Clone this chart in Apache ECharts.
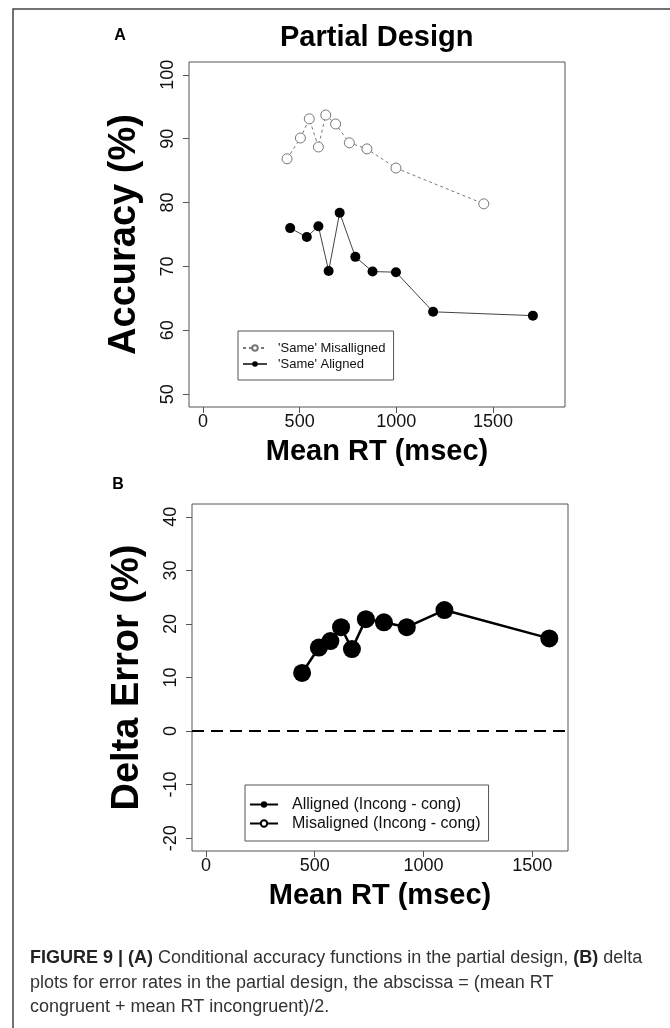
<!DOCTYPE html>
<html>
<head>
<meta charset="utf-8">
<script src="https://cdn.jsdelivr.net/npm/echarts@6/dist/echarts.min.js"></script>
<style>
html,body{margin:0;padding:0;background:#fff;}
#chart{width:670px;height:1028px;}
</style>
</head>
<body>
<div id="chart"></div>
<script>
// ---- Data ----
const xTicks = [0, 500, 1000, 1500];
const yTicksA = [50, 60, 70, 80, 90, 100];
const yTicksB = [-20, -10, 0, 10, 20, 30, 40];

// Panel A: conditional accuracy functions
const misRT  = [435, 504, 550, 597, 635, 686, 757, 848, 998, 1452];
const misAcc = [86.85, 90.1, 93.1, 88.7, 93.7, 92.3, 89.35, 88.4, 85.4, 79.8];
const alRT   = [451, 537, 597, 650, 707, 788, 877, 998, 1190, 1706];
const alAcc  = [76.0, 74.6, 76.3, 69.3, 78.4, 71.5, 69.2, 69.1, 62.9, 62.3];

// Panel B: delta plot for error rates
const deltaRT  = [442, 519, 572, 621, 671, 735, 818, 923, 1096, 1578];
const deltaErr = [10.85, 15.6, 16.8, 19.4, 15.3, 20.9, 20.3, 19.4, 22.6, 17.3];

const seriesNames = {
  mis: "'Same' Misalligned",
  al: "'Same' Aligned",
  dAl: "Alligned (Incong - cong)",
  dMis: "Misaligned (Incong - cong)"
};

const pairs = (xs, ys) => xs.map((x, i) => [x, ys[i]]);

const FONT = '"Liberation Sans", Arial, sans-serif';
const BOX = '#555';
const plain = v => String(v);

function xAxisCfg(gridIndex, min, max) {
  return {
    type: 'value', gridIndex, min, max, position: 'bottom',
    name: 'Mean RT (msec)', nameLocation: 'middle', nameGap: 30,
    nameTextStyle: { fontFamily: FONT, fontSize: 29, fontWeight: 'bold', color: '#000' },
    axisLine: { show: false, onZero: false },
    axisTick: { show: true, inside: false, length: 6, customValues: xTicks, lineStyle: { color: BOX, width: 1 } },
    axisLabel: { show: true, customValues: xTicks, formatter: plain, margin: 6, fontFamily: FONT, fontSize: 18, color: '#111' },
    splitLine: { show: false }
  };
}
function yAxisCfg(gridIndex, min, max, ticks, name) {
  return {
    type: 'value', gridIndex, min, max, position: 'left',
    name, nameLocation: 'middle', nameGap: 45, nameRotate: 90,
    nameTextStyle: { fontFamily: FONT, fontSize: 38, fontWeight: 'bold', color: '#000' },
    axisLine: { show: false, onZero: false },
    axisTick: { show: true, inside: false, length: 6, customValues: ticks, lineStyle: { color: BOX, width: 1 } },
    axisLabel: { show: true, customValues: ticks, formatter: plain, rotate: 90, margin: 12, fontFamily: FONT, fontSize: 18, color: '#111' },
    splitLine: { show: false }
  };
}

const chart = echarts.init(document.getElementById('chart'), null, { renderer: 'canvas' });

const option = {
  animation: false,
  backgroundColor: '#fff',
  grid: [
    { left: 189, top: 62, width: 376, height: 345, show: true, borderColor: BOX, borderWidth: 1, backgroundColor: 'transparent' },
    { left: 192, top: 504, width: 376, height: 347, show: true, borderColor: BOX, borderWidth: 1, backgroundColor: 'transparent' }
  ],
  xAxis: [ xAxisCfg(0, -72, 1872), xAxisCfg(1, -64, 1664) ],
  yAxis: [
    yAxisCfg(0, 48, 102, yTicksA, 'Accuracy (%)'),
    yAxisCfg(1, -22.4, 42.4, yTicksB, 'Delta Error (%)')
  ],
  legend: [
    {
      data: [seriesNames.mis, seriesNames.al],
      orient: 'vertical', left: 238, top: 331,
      padding: [9, 8, 8, 4], itemGap: 0, itemWidth: 24, itemHeight: 7,
      borderColor: BOX, borderWidth: 1, borderRadius: 0,
      selectedMode: false,
      textStyle: { fontFamily: FONT, fontSize: 13, color: '#111', lineHeight: 16, padding: [0, 0, 0, 6] }
    },
    {
      data: [seriesNames.dAl, seriesNames.dMis],
      orient: 'vertical', left: 245, top: 785,
      padding: [10, 8, 8, 4], itemGap: 0, itemWidth: 28, itemHeight: 8,
      borderColor: BOX, borderWidth: 1, borderRadius: 0,
      selectedMode: false,
      textStyle: { fontFamily: FONT, fontSize: 16, color: '#111', lineHeight: 19, padding: [0, 0, 0, 9] }
    }
  ],
  series: [
    {
      name: seriesNames.mis, type: 'line', xAxisIndex: 0, yAxisIndex: 0,
      data: pairs(misRT, misAcc),
      symbol: 'circle', symbolSize: 10,
      itemStyle: { color: '#fff', borderColor: '#777', borderWidth: 1 },
      lineStyle: { color: '#777', width: 1, type: [3, 3] },
      emphasis: { disabled: true }, silent: true, z: 3
    },
    {
      name: seriesNames.al, type: 'line', xAxisIndex: 0, yAxisIndex: 0,
      data: pairs(alRT, alAcc),
      symbol: 'circle', symbolSize: 10,
      itemStyle: { color: '#000', borderColor: '#000', borderWidth: 0 },
      lineStyle: { color: '#444', width: 1 },
      emphasis: { disabled: true }, silent: true, z: 3
    },
    {
      name: seriesNames.dAl, type: 'line', xAxisIndex: 1, yAxisIndex: 1,
      data: pairs(deltaRT, deltaErr),
      symbol: 'circle', symbolSize: 18,
      itemStyle: { color: '#000', borderColor: '#000', borderWidth: 0 },
      lineStyle: { color: '#000', width: 2.5 },
      emphasis: { disabled: true }, silent: true, z: 3,
      markLine: {
        silent: true, symbol: ['none', 'none'], label: { show: false },
        lineStyle: { color: '#000', type: [12, 7], width: 2 },
        emphasis: { disabled: true },
        data: [{ yAxis: 0 }]
      }
    },
    {
      name: seriesNames.dMis, type: 'line', xAxisIndex: 1, yAxisIndex: 1,
      data: [],
      symbol: 'circle', symbolSize: 10,
      itemStyle: { color: '#fff', borderColor: '#000', borderWidth: 1.5 },
      lineStyle: { color: '#000', width: 2 },
      emphasis: { disabled: true }, silent: true
    }
  ],
  graphic: [
    { type: 'rect', shape: { x: 13, y: 9, width: 700, height: 1100 }, style: { fill: 'none', stroke: '#444', lineWidth: 1.5 }, silent: true },
    { type: 'text', x: 376.7, y: 38, style: { text: 'Partial Design', font: 'bold 29px ' + FONT, fill: '#000', textAlign: 'center', textVerticalAlign: 'middle' } },
    { type: 'text', x: 120, y: 36, style: { text: 'A', font: 'bold 16px ' + FONT, fill: '#000', textAlign: 'center', textVerticalAlign: 'middle' } },
    { type: 'text', x: 118, y: 485, style: { text: 'B', font: 'bold 16px ' + FONT, fill: '#000', textAlign: 'center', textVerticalAlign: 'middle' } },
    { type: 'text', x: 30, y: 958, style: {
        text: '{b|FIGURE 9 | (A)} Conditional accuracy functions in the partial design, {b|(B)} delta',
        font: '18px ' + FONT, fill: '#333', textVerticalAlign: 'middle',
        rich: { b: { fontWeight: 'bold', fontSize: 18, fontFamily: FONT, fill: '#222' } } } },
    { type: 'text', x: 30, y: 983, style: { text: 'plots for error rates in the partial design, the abscissa = (mean RT', font: '18px ' + FONT, fill: '#333', textVerticalAlign: 'middle' } },
    { type: 'text', x: 30, y: 1007, style: { text: 'congruent + mean RT incongruent)/2.', font: '18px ' + FONT, fill: '#333', textVerticalAlign: 'middle' } }
  ]
};

chart.setOption(option);
</script>
</body>
</html>
